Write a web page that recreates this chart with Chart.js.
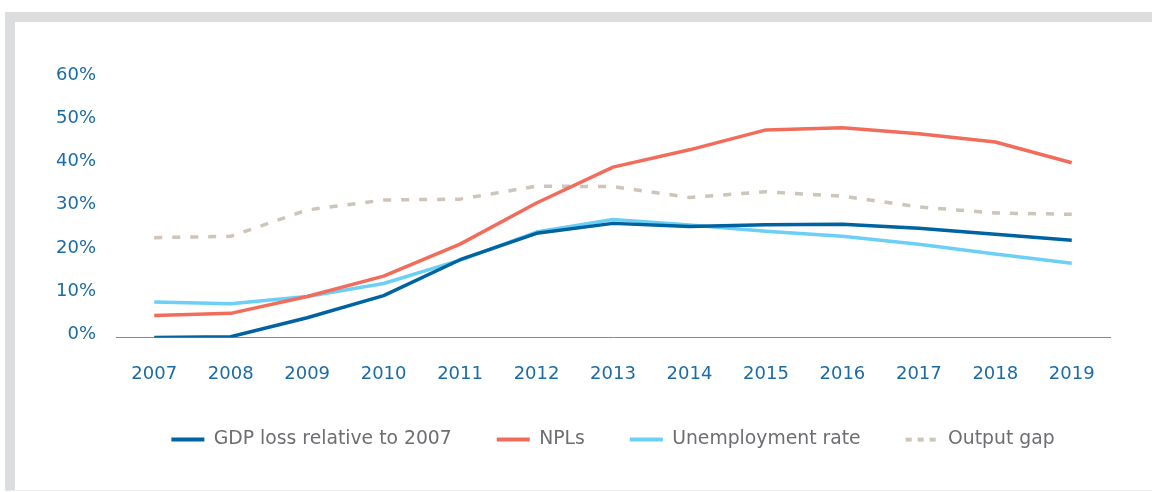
<!DOCTYPE html>
<html>
<head>
<meta charset="utf-8">
<script src="https://cdn.jsdelivr.net/npm/chart.js@4/dist/chart.umd.min.js"></script>
<style>
  html, body { margin: 0; padding: 0; background: #ffffff; }
  body { width: 1152px; height: 492px; position: relative; overflow: hidden; }
  #frame { position: absolute; left: 5px; top: 12px; width: 1147px; height: 479px;
           box-sizing: border-box; border-top: 10px solid #dcdddf; border-left: 10px solid #dcdddf;
           border-bottom: 1px solid #ededee; }
  #wrap { position: absolute; left: 0; top: 0; width: 1152px; height: 492px; }
</style>
</head>
<body>
<div id="frame"></div>
<div id="wrap"><canvas id="c" width="1152" height="492"></canvas></div>
<script>
const categories = ["2007","2008","2009","2010","2011","2012","2013","2014","2015","2016","2017","2018","2019"];
const gdpLoss      = [0.0, 0.2, 4.6, 9.7, 18.0, 24.1, 26.4, 25.7, 26.1, 26.2, 25.3, 23.9, 22.5];
const npls         = [5.1, 5.6, 9.5, 14.2, 21.6, 31.1, 39.4, 43.4, 48.0, 48.5, 47.1, 45.2, 40.4];
const unemployment = [8.2, 7.8, 9.5, 12.5, 17.9, 24.4, 27.3, 26.0, 24.6, 23.4, 21.6, 19.3, 17.2];
const outputGap    = [23.1, 23.4, 29.5, 31.8, 32.0, 35.0, 34.9, 32.4, 33.7, 32.7, 30.2, 28.8, 28.5];
const yTicks = [0, 10, 20, 30, 40, 50, 60];

const FONT = "'DejaVu Sans', sans-serif";
const blueText = '#1b6ba6';

function ds(label, data, color, dash) {
  return {
    label, data, borderColor: color, backgroundColor: color,
    borderWidth: 3.5, borderDash: dash || [], tension: 0,
    pointRadius: 0, pointHoverRadius: 0, pointStyle: 'line', fill: false,
    borderCapStyle: 'butt', borderJoinStyle: 'round'
  };
}

const shiftLegend = {
  id: 'shiftLegend',
  afterLayout(chart) {
    const lg = chart.legend;
    if (!lg) return;
    const dx = 30, dy = -26;
    lg.left += dx; lg.right += dx;
    lg.top += dy; lg.bottom += dy;
  }
};

new Chart(document.getElementById('c'), {
  type: 'line',
  data: {
    labels: categories,
    datasets: [
      ds('GDP loss relative to 2007', gdpLoss, '#0063a1'),
      ds('NPLs', npls, '#f26c5c'),
      ds('Unemployment rate', unemployment, '#6bcff6'),
      ds('Output gap', outputGap, '#cdc4ba', [8, 10])
    ]
  },
  plugins: [shiftLegend],
  options: {
    responsive: false,
    animation: false,
    events: [],
    layout: { padding: { left: 56, right: 42, top: 78, bottom: 7 } },
    scales: {
      x: {
        type: 'category',
        offset: true,
        grid: { display: false, drawTicks: false },
        border: { display: true, color: '#8a8a8a', width: 1 },
        ticks: { color: blueText, font: { family: FONT, size: 18 }, padding: 26, maxRotation: 0, autoSkip: false }
      },
      y: {
        min: 0, max: 60,
        afterBuildTicks: (scale) => { scale.ticks = yTicks.map(v => ({ value: v })); },
        afterFit: (scale) => { scale.width = 60; },
        grid: { display: false, drawTicks: false },
        border: { display: false },
        ticks: { color: blueText, font: { family: FONT, size: 18 }, padding: 20, labelOffset: -3,
                 autoSkip: false, callback: (v) => v + '%' }
      }
    },
    plugins: {
      tooltip: { enabled: false },
      legend: {
        position: 'bottom',
        labels: {
          color: '#6d6e71',
          font: { family: FONT, size: 18.8 },
          usePointStyle: true,
          pointStyle: 'line',
          pointStyleWidth: 33,
          padding: 45,
          generateLabels: (chart) => {
            const items = Chart.defaults.plugins.legend.labels.generateLabels(chart);
            items.forEach((it, i) => {
              it.lineWidth = 4;
              it.lineDash = i === 3 ? [6, 6] : [];
              it.lineCap = 'butt';
              it.pointStyle = 'line';
            });
            return items;
          }
        }
      }
    }
  }
});
</script>
</body>
</html>
